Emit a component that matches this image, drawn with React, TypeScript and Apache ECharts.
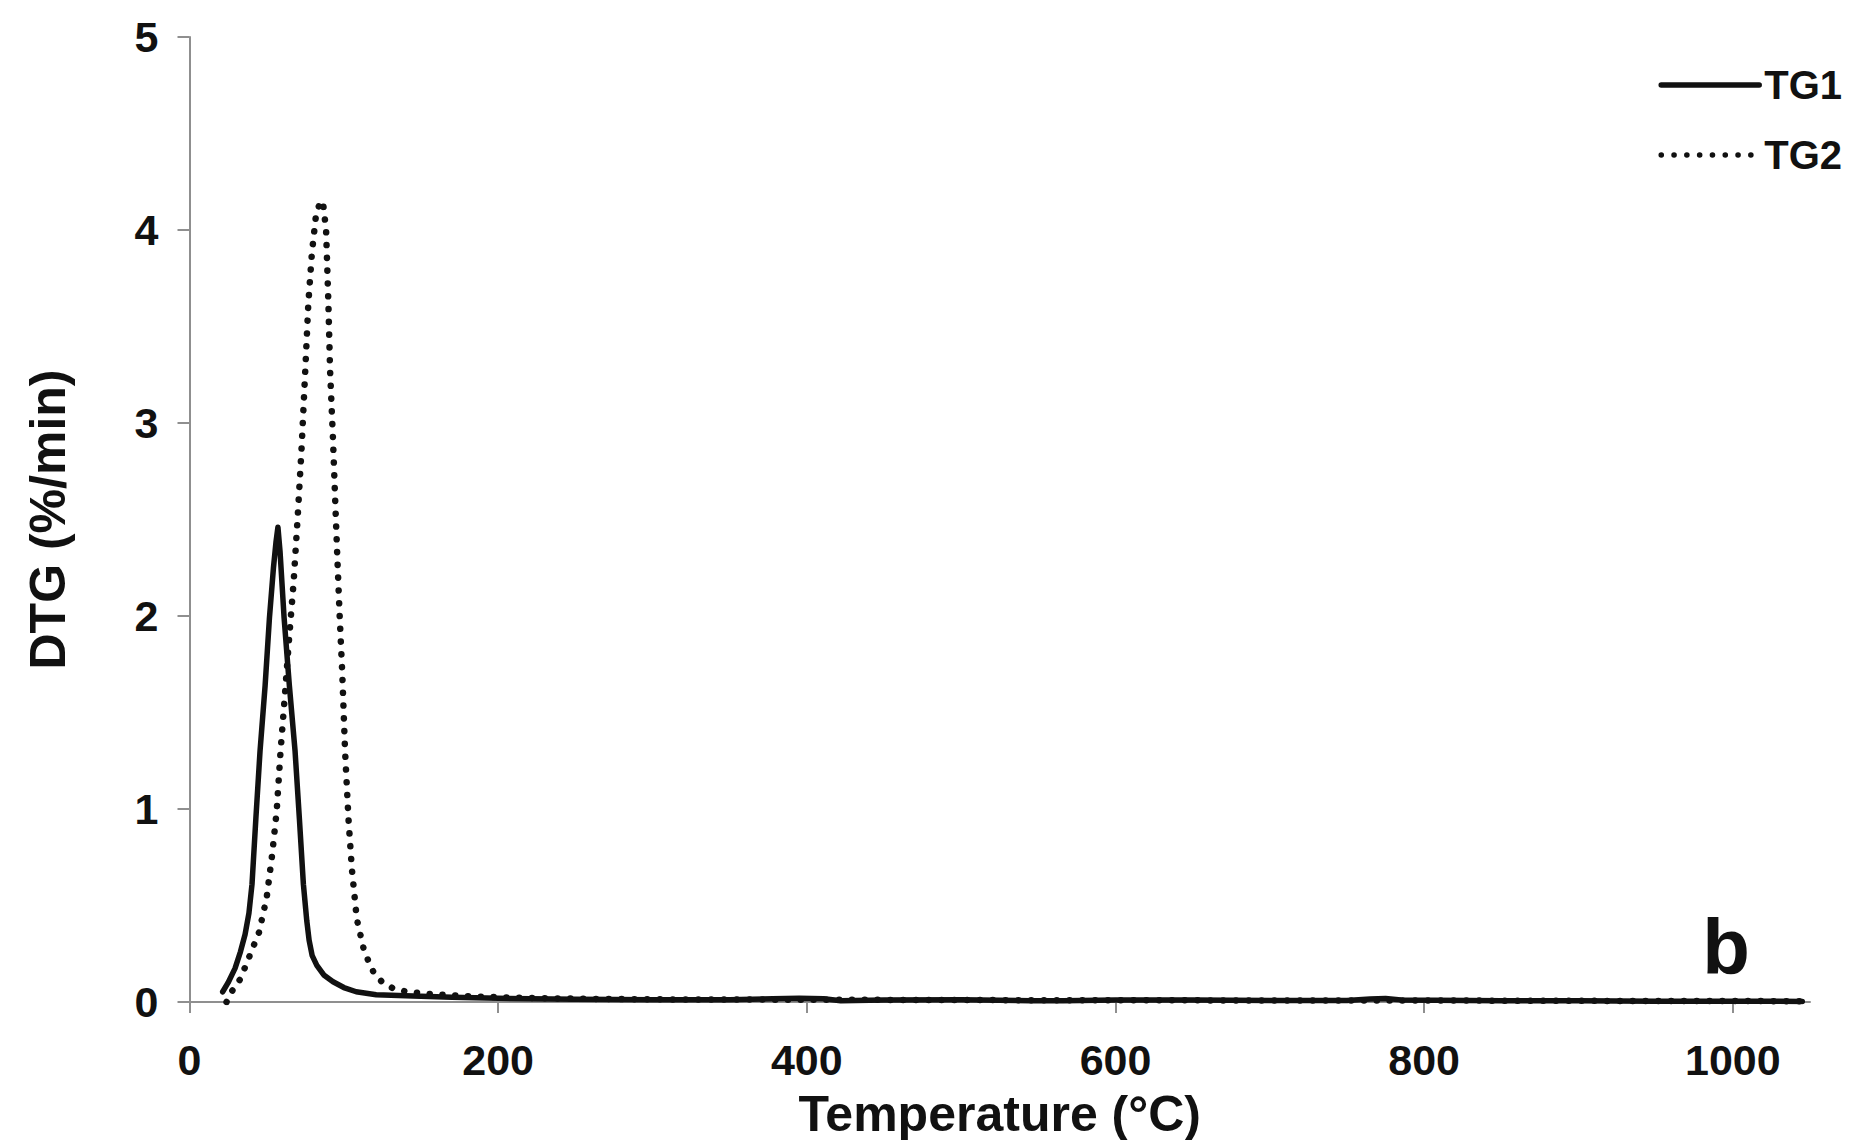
import React, { useEffect, useRef } from "react";
import * as echarts from "echarts";

const xTicks = [0, 200, 400, 600, 800, 1000];

const tg1Temp = [21.5, 25, 29.5, 33, 36, 38.5, 40.5, 43, 45.7, 49, 51.8, 54.4, 56, 57.3, 58.7, 61.3, 64.7, 68.4, 71.2, 73.8, 76, 77.5, 79.5, 82.5, 87, 93, 100, 108, 121, 145, 170, 200, 250, 300, 350, 378, 395, 411, 422, 450, 500, 545, 566, 600, 650, 700, 750, 765, 775, 785, 850, 900, 950, 1000, 1045];
const tg1Dtg = [0.053, 0.1, 0.174, 0.26, 0.35, 0.46, 0.61, 0.95, 1.3, 1.64, 1.99, 2.25, 2.38, 2.46, 2.33, 1.99, 1.64, 1.3, 0.95, 0.61, 0.42, 0.32, 0.24, 0.19, 0.14, 0.105, 0.075, 0.053, 0.038, 0.031, 0.025, 0.019, 0.014, 0.012, 0.012, 0.017, 0.019, 0.017, 0.006, 0.01, 0.012, 0.007, 0.006, 0.01, 0.01, 0.008, 0.008, 0.016, 0.018, 0.011, 0.006, 0.006, 0.004, 0.004, 0.003];

const tg2Temp = [24, 27, 33, 39, 45, 50, 53.5, 56.5, 59, 62, 64.5, 67.5, 70, 72.5, 75, 77, 79.3, 82, 84.5, 86.4, 88.5, 90, 91.1, 92.9, 94.4, 95.8, 97.3, 99, 100.8, 103, 105.2, 108.4, 112.7, 116, 119.5, 124.6, 132, 141, 156, 180, 210, 260, 320, 400, 500, 600, 700, 800, 900, 1000, 1045];
const tg2Dtg = [0.0, 0.05, 0.12, 0.24, 0.36, 0.54, 0.76, 0.99, 1.3, 1.61, 1.88, 2.18, 2.5, 2.85, 3.27, 3.62, 3.88, 4.08, 4.14, 4.15, 4.0, 3.62, 3.27, 2.93, 2.6, 2.3, 2.0, 1.7, 1.3, 0.95, 0.69, 0.43, 0.28, 0.21, 0.15, 0.105, 0.07, 0.053, 0.041, 0.03, 0.022, 0.016, 0.013, 0.012, 0.01, 0.009, 0.008, 0.008, 0.006, 0.005, 0.004];

const seriesNames = ["TG1", "TG2"];

const FONT = "'Liberation Sans', Arial, sans-serif";
const AXIS_GRAY = "#8f8f8f";
const INK = "#111111";

export default function App() {
  const ref = useRef<HTMLDivElement>(null);
  useEffect(() => {
    if (!ref.current) return;
    const chart = echarts.init(ref.current, undefined, { renderer: "svg" });
    const tg1 = tg1Temp.map((t, i) => [t, tg1Dtg[i]]);
    const tg2 = tg2Temp.map((t, i) => [t, tg2Dtg[i]]);
    chart.setOption({
      animation: false,
      backgroundColor: "#ffffff",
      textStyle: { fontFamily: FONT },
      grid: { left: 189.5, right: 43, top: 37, bottom: 146, containLabel: false },
      legend: {
        orient: "vertical",
        right: 6,
        top: 60,
        itemWidth: 98,
        itemHeight: 20,
        itemGap: 30,
        data: seriesNames,
        textStyle: { fontFamily: FONT, fontSize: 40, fontWeight: "bold", color: INK },
        lineStyle: { width: 5.5 },
        itemStyle: { opacity: 0, borderWidth: 0 },
      },
      xAxis: {
        type: "value",
        min: 0,
        max: 1050,
        interval: 200,
        name: "Temperature (°C)",
        nameLocation: "middle",
        nameGap: 87,
        nameTextStyle: { fontFamily: FONT, fontSize: 50, fontWeight: "bold", color: INK },
        axisLine: { show: true, onZero: false, lineStyle: { color: AXIS_GRAY, width: 2 } },
        axisTick: { show: true, length: 11, customValues: xTicks, lineStyle: { color: AXIS_GRAY, width: 2 } },
        axisLabel: {
          customValues: xTicks,
          formatter: (v: number) => String(v),
          margin: 36,
          fontFamily: FONT,
          fontSize: 43,
          fontWeight: "bold",
          color: INK,
        },
        splitLine: { show: false },
      },
      yAxis: {
        type: "value",
        min: 0,
        max: 5,
        interval: 1,
        name: "DTG (%/min)",
        nameLocation: "middle",
        nameGap: 117,
        nameTextStyle: { fontFamily: FONT, fontSize: 50, fontWeight: "bold", color: INK },
        axisLine: { show: true, onZero: false, lineStyle: { color: AXIS_GRAY, width: 2 } },
        axisTick: { show: true, length: 12, lineStyle: { color: AXIS_GRAY, width: 2 } },
        axisLabel: {
          formatter: (v: number) => String(v),
          margin: 31,
          fontFamily: FONT,
          fontSize: 43,
          fontWeight: "bold",
          color: INK,
        },
        splitLine: { show: false },
      },
      graphic: [
        {
          type: "text",
          x: 1726,
          y: 947,
          style: {
            text: "b",
            fontFamily: FONT,
            fontSize: 78,
            fontWeight: "bold",
            fill: INK,
            textAlign: "center",
            textVerticalAlign: "middle",
          },
        },
      ],
      series: [
        {
          name: "TG2",
          type: "line",
          data: tg2,
          symbol: "none",
          smooth: false,
          lineStyle: { color: INK, width: 6.5, type: [0.1, 12.7], cap: "round" },
          itemStyle: { color: INK },
          z: 2,
        },
        {
          name: "TG1",
          type: "line",
          data: tg1,
          symbol: "none",
          smooth: false,
          lineStyle: { color: INK, width: 5.5, type: "solid", cap: "round", join: "round" },
          itemStyle: { color: INK },
          z: 3,
        },
      ],
    });
    return () => chart.dispose();
  }, []);
  return <div ref={ref} style={{ width: 1853, height: 1148, margin: -8 }} />;
}
